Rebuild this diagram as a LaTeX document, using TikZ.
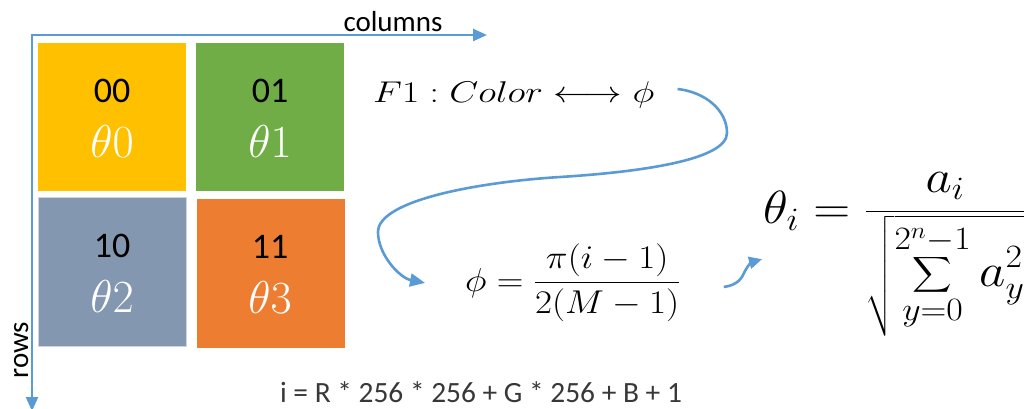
\RequirePackage{fix-cm}
\documentclass[tikz,border=0pt]{standalone}
\usepackage{exscale}
\usepackage{fontspec}
\newfontfamily\carlito{Carlito}
\usetikzlibrary{arrows.meta}
\definecolor{cyel}{HTML}{FFC000}
\definecolor{cgrn}{HTML}{70AD47}
\definecolor{cgry}{HTML}{8497B0}
\definecolor{corg}{HTML}{ED7D31}
\definecolor{cblue}{HTML}{5B9BD5}
\begin{document}
\begin{tikzpicture}[x=1pt,y=-1pt,
  axis/.style={draw=cblue, line width=2.6pt, line join=miter,
    {Triangle[length=14pt,width=12pt]}-{Triangle[length=14pt,width=12pt]}},
  flow/.style={draw=cblue, line width=2.6pt, -{Triangle[length=15pt,width=13pt]}},
  flowsmall/.style={draw=cblue, line width=2.6pt, -{Triangle[length=13pt,width=12pt]}},
  cell/.style={minimum width=148pt, minimum height=148pt, inner sep=0, draw=none},
  bit/.style={font=\carlito\fontsize{36}{40}\selectfont, inner sep=0, anchor=base},
  ang/.style={text=white, font=\fontsize{46}{50}\selectfont, inner sep=0, anchor=base},
  lbl/.style={font=\carlito\fontsize{29}{33}\selectfont, inner sep=0, anchor=base},
  bottomtext/.style={text=black!78, font=\carlito\fontsize{29.4}{34}\selectfont, inner sep=0, anchor=base},
  eq/.style={inner sep=0, anchor=base west}]
\useasboundingbox (0,0) rectangle (1035,408);
\fill[white] (0,0) rectangle (1035,408);
% cells
\node[cell, fill=cyel] (c00) at (112,117) {};
\node[cell, fill=cgrn] (c01) at (270,117) {};
\node[cell, fill=cgry, draw=cgry!40, line width=0.8pt, minimum height=149pt] (c10) at (112,271.5) {};
\node[cell, fill=corg, minimum height=149pt] (c11) at (271,273.5) {};
% labels
\node[bit] (l00) at (112,102) {00};
\node[ang] (t0) at (112,157) {$\theta0$};
\node[bit] (l01) at (270,102) {01};
\node[ang] (t1) at (270,157) {$\theta1$};
\node[bit] (l10) at (112,257) {10};
\node[ang] (t2) at (112,312) {$\theta2$};
\node[bit] (l11) at (270,258) {11};
\node[ang] (t3) at (270,313) {$\theta3$};
% axes
\coordinate (o) at (32,35);
\coordinate (xend) at (487,35);
\coordinate (yend) at (32,411);
\draw[axis] (xend) -- (o) -- (yend);
\node[lbl] (cols) at (393,31) {columns};
\node[lbl, rotate=90] (rows) at (28,350) {rows};
% formulas
\node[eq, font=\fontsize{30}{36}\selectfont] (f1) at (373,102) {\scalebox{1.25}[1]{$F1 : Color \longleftrightarrow \phi$}};
\node[eq, font=\fontsize{33}{40}\selectfont] (phi) at (465,291) {\scalebox{1.12}[1]{$\displaystyle \phi = \frac{\pi(i-1)}{2(M-1)}$}};
\node[eq, font=\fontsize{46.5}{54}\selectfont] (theta) at (763,223.6) {\scalebox{1.1}[1]{$\displaystyle \theta_i = \frac{a_i}{\sqrt{\displaystyle\sum_{y=0}^{2^n-1} a_y^2}}$}};
\node[bottomtext] (idx) at (481,402) {i = R * 256 * 256 + G * 256 + B + 1};
% connectors
\coordinate (s1) at ([xshift=23pt,yshift=5.5pt]f1.east);
\coordinate (e1) at ([xshift=-40pt]phi.west);
\draw[flow] (s1) .. controls (705,92) and (727,110) .. (727,133)
  .. controls (727,160) and (640,172) .. (560,177)
  .. controls (480,182) and (378,200) .. (378,232)
  .. controls (378,255) and (400,278) .. (e1);
\coordinate (s2) at ([xshift=43pt,yshift=4pt]phi.base east);
\coordinate (e2) at ([xshift=-1pt,yshift=-35.6pt]theta.base west);
\draw[flowsmall] (s2) .. controls (738,285) and (742,278) .. (745,271)
  .. controls (748,265) and (752,262) .. (e2);
\end{tikzpicture}
\end{document}
